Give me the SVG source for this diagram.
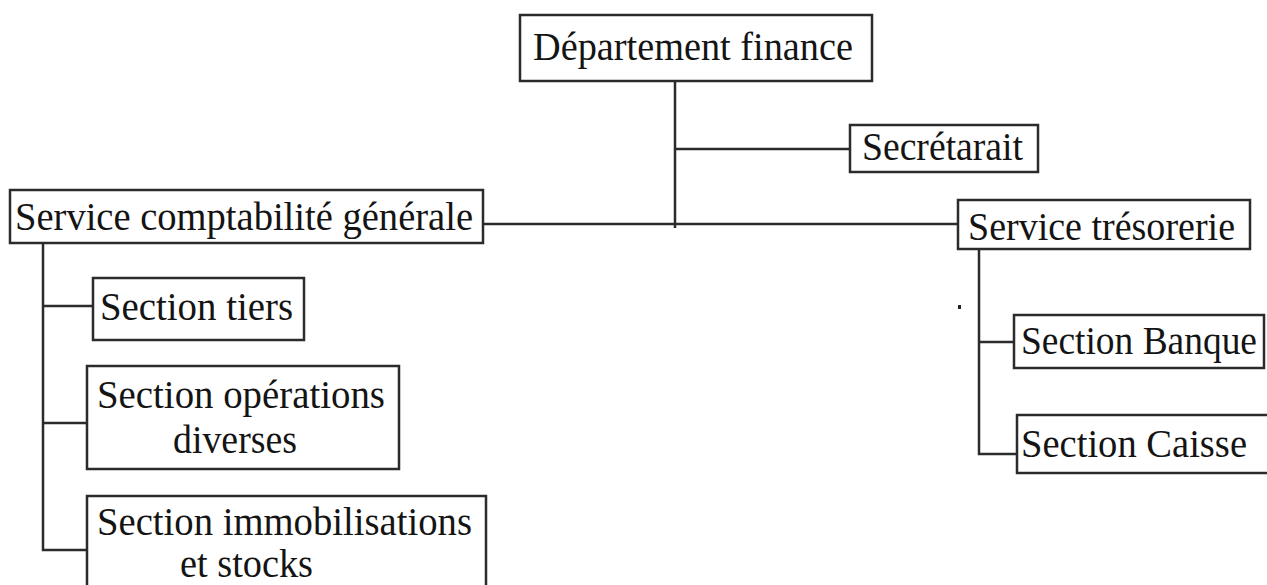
<svg xmlns="http://www.w3.org/2000/svg" width="1267" height="585" viewBox="0 0 1267 585">
<style>
.box{fill:#fff;stroke:#2b2b2b;stroke-width:2.5}
.t{font-family:"Liberation Serif","Times New Roman",serif;font-size:41px;fill:#141414}
.c{fill:none;stroke:#2b2b2b;stroke-width:2.5}
</style>
<rect width="1267" height="585" fill="#fff"/>
<g id="connectors">
<path class="c" d="M675 81V228M675 149H850M483 224H958"/>
<path class="c" d="M43 243V550H87M43 306H93M43 423H87"/>
<path class="c" d="M979 249V454H1017M979 342H1014"/>
</g>
<g id="n-departement"><rect class="box" x="520" y="15" width="352" height="66"/><text class="t" x="533" y="60" textLength="320" lengthAdjust="spacingAndGlyphs">Département finance</text></g>
<g id="n-secretariat"><rect class="box" x="850" y="125" width="188" height="47"/><text class="t" x="862" y="160" textLength="161" lengthAdjust="spacingAndGlyphs">Secrétarait</text></g>
<g id="n-compta"><rect class="box" x="10" y="190" width="473" height="53"/><text class="t" x="15" y="230" textLength="458" lengthAdjust="spacingAndGlyphs">Service comptabilité générale</text></g>
<g id="n-tresorerie"><rect class="box" x="958" y="200" width="292" height="49"/><text class="t" x="968" y="240" textLength="267" lengthAdjust="spacingAndGlyphs">Service trésorerie</text></g>
<g id="n-tiers"><rect class="box" x="93" y="278" width="211" height="62"/><text class="t" x="100" y="320" textLength="193" lengthAdjust="spacingAndGlyphs">Section tiers</text></g>
<g id="n-operations"><rect class="box" x="87" y="366" width="312" height="103"/><text class="t" x="97" y="408" textLength="288" lengthAdjust="spacingAndGlyphs">Section opérations</text><text class="t" x="173" y="453" textLength="124" lengthAdjust="spacingAndGlyphs">diverses</text></g>
<g id="n-immo"><rect class="box" x="87" y="496" width="399" height="100"/><text class="t" x="97" y="535" textLength="375" lengthAdjust="spacingAndGlyphs">Section immobilisations</text><text class="t" x="180" y="577" textLength="133" lengthAdjust="spacingAndGlyphs">et stocks</text></g>
<g id="n-banque"><rect class="box" x="1014" y="315" width="250" height="53"/><text class="t" x="1021" y="354" textLength="236" lengthAdjust="spacingAndGlyphs">Section Banque</text></g>
<g id="n-caisse"><rect class="box" x="1017" y="415" width="255" height="58"/><text class="t" x="1021" y="457" textLength="226" lengthAdjust="spacingAndGlyphs">Section Caisse</text></g>
<rect x="958" y="305" width="3" height="4" fill="#222"/>
</svg>
